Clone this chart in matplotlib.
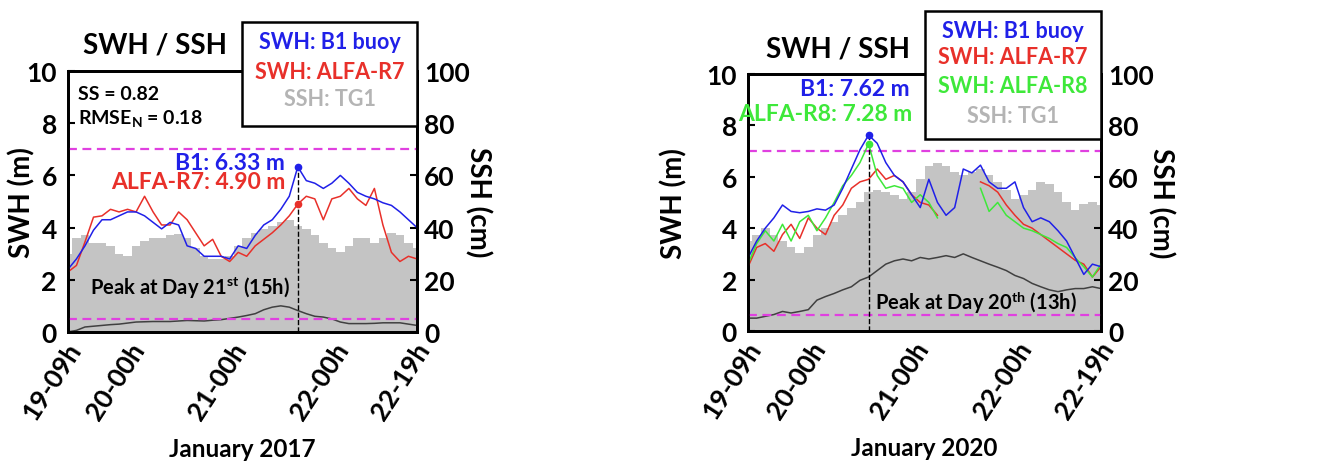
import numpy as np
import matplotlib
matplotlib.use("Agg")
import matplotlib.pyplot as plt
import matplotlib.transforms as mtransforms
from matplotlib.patches import Rectangle

plt.rcParams['font.family'] = ['Lato', 'DejaVu Sans']
plt.rcParams['font.weight'] = 'bold'
plt.rcParams['axes.labelweight'] = 'bold'
plt.rcParams['mathtext.fontset'] = 'custom'
plt.rcParams['mathtext.rm'] = 'Lato:bold'
plt.rcParams['mathtext.it'] = 'Lato:bold'
plt.rcParams['mathtext.bf'] = 'Lato:bold'

# hours since 19 Jan 09h, every 2 h
hours = np.arange(0, 83, 2)
tick_hours = [0, 15, 39, 63, 82]
tick_labels = ['19-09h', '20-00h', '21-00h', '22-00h', '22-19h']

# ---- January 2017 ----
b1_2017 = [2.4, 2.8, 3.3, 3.9, 4.3, 4.3, 4.45, 4.6, 4.6, 4.45, 4.2, 3.95, 4.2, 4.1,
           3.3, 3.2, 2.9, 2.9, 2.9, 2.8, 3.3, 3.2, 3.7, 4.1, 4.3, 4.7, 5.2, 6.33,
           5.8, 5.7, 5.5, 5.7, 6.0, 5.7, 5.35, 5.2, 5.1, 4.95, 4.85, 4.6, 4.3, 4.0]
r7_2017 = [2.3, 2.55, 3.45, 4.4, 4.45, 4.7, 4.6, 4.7, 4.6, 5.2, 4.6, 4.1, 4.1, 4.6,
           4.3, 3.8, 3.3, 3.55, 2.9, 2.7, 3.05, 2.9, 3.3, 3.55, 3.8, 4.1, 4.45, 4.9,
           5.2, 5.1, 4.3, 5.1, 5.2, 5.5, 5.1, 4.85, 5.5, 4.1, 3.05, 2.7, 2.9, 2.8]
ssh_2017 = [30, 36, 37, 34, 34, 33, 30, 29, 33, 35, 36, 36, 37, 37.5,
            36, 32, 29, 28, 28, 29, 33, 36, 38, 39.5, 40.5, 42, 43, 40.5,
            39.5, 37, 34, 32, 30.5, 33, 36, 36, 34, 36, 38, 37, 34, 32]
blk_2017 = [0.0, 0.06, 0.19, 0.22, 0.25, 0.28, 0.3, 0.34, 0.38, 0.39, 0.4, 0.4, 0.4, 0.42,
            0.44, 0.43, 0.42, 0.45, 0.47, 0.52, 0.57, 0.63, 0.7, 0.85, 0.95, 1.0, 0.95, 0.82,
            0.7, 0.6, 0.57, 0.5, 0.38, 0.32, 0.32, 0.32, 0.33, 0.35, 0.35, 0.35, 0.3, 0.25]

# ---- January 2020 ----
b1_2020 = [2.85, 3.5, 4.0, 4.4, 4.9, 4.65, 4.6, 4.65, 4.75, 4.7, 4.9, 5.55, 6.3, 7.05,
           7.62, 7.3, 6.55, 6.05, 5.8, 5.3, 4.8, 5.9, 5.0, 4.5, 4.8, 6.3, 6.15, 6.45,
           5.8, 5.55, 5.55, 5.8, 4.8, 4.25, 4.4, 4.25, 3.9, 3.5, 2.85, 2.2, 2.6, 2.5]
r7_2020 = [2.5, 3.25, 3.4, 3.1, 3.75, 4.15, 3.6, 4.4, 4.0, 3.75, 4.5, 4.9, 5.55, 5.8,
           5.9, 6.3, 5.9, 6.05, 5.8, 5.3, 5.0, 4.9, 4.5, np.nan, np.nan, np.nan, np.nan, 5.8,
           5.65, 5.4, 4.9, 4.5, 4.15, 4.0, 3.75, 3.5, 3.25, 3.0, 2.75, 2.6, 2.1, 2.5]
r8_2020 = [2.6, 3.4, 3.9, 3.5, 4.15, 3.5, 4.25, 4.5, 3.9, 4.4, 5.0, 5.65, 6.05, 6.55,
           7.28, 6.05, 5.55, 5.65, 5.55, 5.0, 5.3, 5.0, 4.4, np.nan, np.nan, np.nan, np.nan, 5.55,
           4.65, 5.0, 4.5, 4.25, 4.0, 3.9, 3.75, 3.6, 3.4, 3.25, 2.85, 2.5, 2.1, 2.6]
ssh_2020 = [35, 37.5, 40, 37.5, 35, 32.5, 30.5, 32.5, 37.5, 40, 42.5, 45, 47.7, 50,
            54, 55, 54, 53, 51.5, 54, 59, 64, 65.5, 64, 61.7, 60.5, 61.7, 63,
            60.5, 58, 55, 51.5, 53, 55, 58, 57, 54, 50, 47, 49.5, 50, 49]
blk_2020 = [0.5, 0.5, 0.57, 0.64, 0.76, 0.7, 0.76, 0.83, 1.2, 1.34, 1.46, 1.6, 1.72, 1.97,
            2.1, 2.35, 2.6, 2.73, 2.8, 2.73, 2.86, 2.8, 2.86, 2.93, 2.86, 3.0, 2.86, 2.73,
            2.6, 2.48, 2.35, 2.16, 2.04, 1.85, 1.72, 1.6, 1.53, 1.6, 1.65, 1.65, 1.72, 1.65]

BLUE = '#2020e8'
RED = '#e8302a'
GREEN = '#3ee83a'
GREYTXT = '#b4b4b4'
MAG = '#e040e0'

fig = plt.figure(figsize=(13.17, 4.77), dpi=100)
ax_l = fig.add_axes([0.0516, 0.302, 0.265, 0.547])
ax_r = fig.add_axes([0.568, 0.304, 0.268, 0.539])


def setup(ax, ssh, blk, thr_low, xlabel, swh_x, ssh_x):
    ax2 = ax.twinx()
    ax.set_zorder(ax2.get_zorder() + 1)
    ax.patch.set_visible(False)
    ax2.fill_between(hours, ssh, step='mid', color='#c4c4c4', lw=0)
    ax2.set_ylim(0, 100)
    ax2.set_yticks([0, 20, 40, 60, 80, 100])
    ax2.tick_params(axis='y', direction='in', labelsize=19, pad=5, width=1.5, length=5)
    ax2.set_ylabel('SSH (cm)', fontsize=20, rotation=270, ha='center', va='center')
    ax2.yaxis.set_label_coords(ssh_x, 0.5)
    ax.plot(hours, blk, color='#404040', lw=1.1)
    ax.axhline(7, color=MAG, ls='--', lw=1.6, dashes=(4, 2.5))
    ax.axhline(thr_low, color=MAG, ls='--', lw=1.6, dashes=(4, 2.5))
    ax.set_xlim(0, 82)
    ax.set_ylim(0, 10)
    ax.set_yticks([0, 2, 4, 6, 8, 10])
    ax.tick_params(axis='y', direction='in', labelsize=19, pad=8, width=1.5, length=5)
    ax.set_xticks(tick_hours)
    ax.set_xticklabels(tick_labels, rotation=57, ha='right', va='center',
                       rotation_mode='anchor', fontsize=19)
    ax.tick_params(axis='x', direction='in', length=0, pad=9)
    off = mtransforms.ScaledTranslation(7 / 100, 0, fig.dpi_scale_trans)
    for lab in ax.get_xticklabels():
        lab.set_transform(lab.get_transform() + off)
    ax.set_ylabel('SWH (m)', fontsize=20, ha='center', va='center')
    ax.yaxis.set_label_coords(swh_x, 0.5)
    ax.set_xlabel(xlabel, fontsize=17.5, labelpad=10)
    for a in (ax, ax2):
        for s in a.spines.values():
            s.set_linewidth(2)
    return ax2


def legend_box(ax, x0, y0, y1, lines):
    rect = Rectangle((x0, y0), 1 - x0, y1 - y0, transform=ax.transAxes,
                     facecolor='white', edgecolor='black', lw=1.8,
                     clip_on=False, zorder=10)
    ax.add_patch(rect)
    for text, color, y in lines:
        ax.text(0.75, y, text, color=color, transform=ax.transAxes, fontsize=15.5,
                ha='center', va='center', zorder=11, clip_on=False)


# left panel: 2017
setup(ax_l, ssh_2017, blk_2017, 0.48, 'January 2017', -0.132, 1.175)
ax_l.plot(hours, r7_2017, color=RED, lw=1.1)
ax_l.plot(hours, b1_2017, color=BLUE, lw=1.1)
pk = 27
ax_l.vlines(hours[pk], 0, b1_2017[pk], colors='black', linestyles='--', lw=1.0)
ax_l.plot(hours[pk], b1_2017[pk], 'o', color=BLUE, ms=4.5)
ax_l.plot(hours[pk], r7_2017[pk], 'o', color=RED, ms=4.5)
ax_l.text(0.622, 0.651, 'B1: 6.33 m', color=BLUE, fontsize=16.5, ha='right', va='center',
          transform=ax_l.transAxes)
ax_l.text(0.622, 0.575, 'ALFA-R7: 4.90 m', color=RED, fontsize=16.5, ha='right', va='center',
          transform=ax_l.transAxes)
ax_l.text(0.636, 0.172, 'Peak at Day 21$^{\\mathrm{st}}$ (15h)', fontsize=14.5, ha='right',
          va='center', transform=ax_l.transAxes)
ax_l.text(0.03, 0.915, 'SS = 0.82', fontsize=14, ha='left', va='center',
          transform=ax_l.transAxes)
ax_l.text(0.03, 0.82, 'RMSE$_{\\mathrm{N}}$ = 0.18', fontsize=14, ha='left', va='center',
          transform=ax_l.transAxes)
ax_l.text(0.25, 1.103, 'SWH / SSH', fontsize=20, ha='center', va='center',
          transform=ax_l.transAxes)
legend_box(ax_l, 0.499, 0.789, 1.188,
           [('SWH: B1 buoy', BLUE, 1.115), ('SWH: ALFA-R7', RED, 1.0),
            ('SSH: TG1', GREYTXT, 0.893)])

# right panel: 2020
setup(ax_r, ssh_2020, blk_2020, 0.62, 'January 2020', -0.21, 1.17)
ax_r.plot(hours, r7_2020, color=RED, lw=1.1)
ax_r.plot(hours, r8_2020, color=GREEN, lw=1.1)
ax_r.plot(hours, b1_2020, color=BLUE, lw=1.1)
pk = 14
ax_r.vlines(hours[pk], 0, b1_2020[pk], colors='black', linestyles='--', lw=1.0)
ax_r.plot(hours[pk], b1_2020[pk], 'o', color=BLUE, ms=4.5)
ax_r.plot(hours[pk], r8_2020[pk], 'o', color=GREEN, ms=4.5)
ax_r.text(0.459, 0.942, 'B1: 7.62 m', color=BLUE, fontsize=16.5, ha='right', va='center',
          transform=ax_r.transAxes)
ax_r.text(0.465, 0.844, 'ALFA-R8: 7.28 m', color=GREEN, fontsize=16.5, ha='right', va='center',
          transform=ax_r.transAxes)
ax_r.text(0.36, 0.113, 'Peak at Day 20$^{\\mathrm{th}}$ (13h)', fontsize=14.5, ha='left',
          va='center', transform=ax_r.transAxes)
ax_r.text(0.255, 1.097, 'SWH / SSH', fontsize=20, ha='center', va='center',
          transform=ax_r.transAxes)
legend_box(ax_r, 0.501, 0.747, 1.245,
           [('SWH: B1 buoy', BLUE, 1.167), ('SWH: ALFA-R7', RED, 1.066),
            ('SWH: ALFA-R8', GREEN, 0.953), ('SSH: TG1', GREYTXT, 0.837)])

fig.savefig('out.png', dpi=100)
